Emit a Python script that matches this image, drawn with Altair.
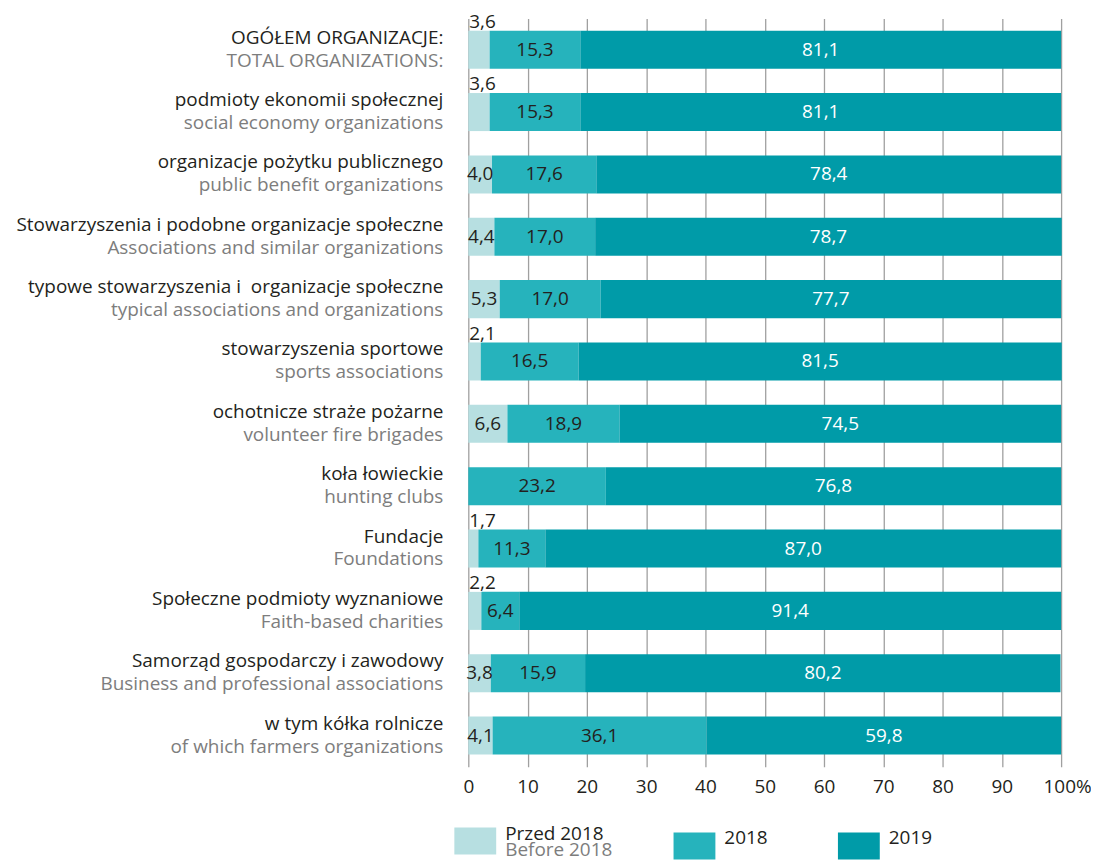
import altair as alt
import pandas as pd

cats_pl = [
    "OGÓŁEM ORGANIZACJE:",
    "podmioty ekonomii społecznej",
    "organizacje pożytku publicznego",
    "Stowarzyszenia i podobne organizacje społeczne",
    "typowe stowarzyszenia i \u00a0organizacje społeczne",
    "stowarzyszenia sportowe",
    "ochotnicze straże pożarne",
    "koła łowieckie",
    "Fundacje",
    "Społeczne podmioty wyznaniowe",
    "Samorząd gospodarczy i zawodowy",
    "w tym kółka rolnicze",
]
cats_en = [
    "TOTAL ORGANIZATIONS:",
    "social economy organizations",
    "public benefit organizations",
    "Associations and similar organizations",
    "typical associations and organizations",
    "sports associations",
    "volunteer fire brigades",
    "hunting clubs",
    "Foundations",
    "Faith-based charities",
    "Business and professional associations",
    "of which farmers organizations",
]
before_2018 = [3.6, 3.6, 4.0, 4.4, 5.3, 2.1, 6.6, 0.0, 1.7, 2.2, 3.8, 4.1]
in_2018 = [15.3, 15.3, 17.6, 17.0, 17.0, 16.5, 18.9, 23.2, 11.3, 6.4, 15.9, 36.1]
in_2019 = [81.1, 81.1, 78.4, 78.7, 77.7, 81.5, 74.5, 76.8, 87.0, 91.4, 80.2, 59.8]
series = ["Przed 2018", "2018", "2019"]
series_en_note = ["Before 2018"]
colors = ["#b7dfe1", "#26b3bc", "#009ba8"]
x_ticks = [0, 10, 20, 30, 40, 50, 60, 70, 80, 90, 100]

rows = []
for i, c in enumerate(cats_pl):
    for k, (s, vals) in enumerate(zip(series, [before_2018, in_2018, in_2019])):
        v = vals[i]
        rows.append({"cat": c, "series": s, "ord": k, "value": v,
                     "label": f"{v:.1f}".replace(".", ",")})
df = pd.DataFrame(rows)
labels_df = pd.DataFrame({"cat": cats_pl, "en": cats_en})

FONT = "Open Sans"
FS = 19
DARK = "#231f20"
GRAY = "#7d7d7d"

yenc = alt.Y("cat:N", sort=cats_pl, axis=None,
             scale=alt.Scale(paddingInner=0.39, paddingOuter=0.195))

bars = alt.Chart(df).mark_bar().encode(
    x=alt.X("value:Q", stack="zero",
            scale=alt.Scale(domain=[0, 100], nice=False),
            axis=alt.Axis(values=x_ticks, title=None, domain=False, ticks=False,
                          grid=True, gridColor="#a0a0a0", gridWidth=1.3,
                          labelFont=FONT, labelFontSize=FS, labelColor=DARK,
                          labelPadding=11, labelFlush=False,
                          labelOffset={"condition": {"test": "datum.value == 100", "value": 6},
                                       "value": 0},
                          labelExpr="datum.value == 100 ? '100%' : datum.label")),
    y=yenc,
    color=alt.Color("series:N",
                    scale=alt.Scale(domain=series, range=colors),
                    legend=alt.Legend(title=None, orient="none", direction="horizontal",
                                      legendX=-23, legendY=788, padding=0,
                                      symbolType="M-0.7,-0.2H0.7V0.7H-0.7Z",
                                      symbolSize=3600, symbolStrokeWidth=0,
                                      symbolOpacity=1, columnPadding=61,
                                      labelOffset=0,
                                      labelFont=FONT, labelFontSize=FS,
                                      labelColor=DARK,
                                      labelExpr="datum.label == 'Przed 2018' ? ['Przed 2018', '\u200b'] : datum.label")),
    order=alt.Order("ord:Q"),
)

stacked = alt.Chart(df).transform_stack(
    stack="value", groupby=["cat"], as_=["x0", "x1"],
    sort=[alt.SortField("ord", order="ascending")]
).transform_calculate(mid="(datum.x0 + datum.x1) / 2")

inside = stacked.transform_filter("datum.value >= 3.7").mark_text(
    font=FONT, fontSize=FS, baseline="middle", align="center"
).encode(
    x="mid:Q",
    y=yenc,
    text="label:N",
    color=alt.Color("series:N", scale=alt.Scale(domain=series, range=[DARK, DARK, "#ffffff"]),
                    legend=None),
)

above = stacked.transform_filter("datum.value > 0 && datum.value < 3.7").mark_text(
    font=FONT, fontSize=FS, baseline="middle", align="left", dx=1, dy=-28, color=DARK
).encode(
    x="x0:Q",
    y=yenc,
    text="label:N",
)

pl_text = alt.Chart(labels_df).mark_text(
    font=FONT, fontSize=FS, align="right", baseline="middle", dy=-12, color=DARK
).encode(x=alt.value(-25), y=yenc, text="cat:N")

en_text = alt.Chart(labels_df).mark_text(
    font=FONT, fontSize=FS, align="right", baseline="middle", dy=11, color=GRAY
).encode(x=alt.value(-25), y=yenc, text="en:N")

legend_en = alt.Chart(pd.DataFrame({"t": series_en_note})).mark_text(
    font=FONT, fontSize=FS, align="left", baseline="middle", color=GRAY
).encode(x=alt.value(37), y=alt.value(835), text="t:N")

chart = alt.layer(bars, inside, above, pl_text, en_text, legend_en).resolve_scale(
    color="independent"
).properties(
    width=595, height=751,
    autosize=alt.AutoSizeParams(type="none"),
    padding={"left": 462, "top": 9, "right": 30, "bottom": 92},
).configure_view(stroke=None)

chart.save("out.html", embed_options={"renderer": "svg", "actions": False})
